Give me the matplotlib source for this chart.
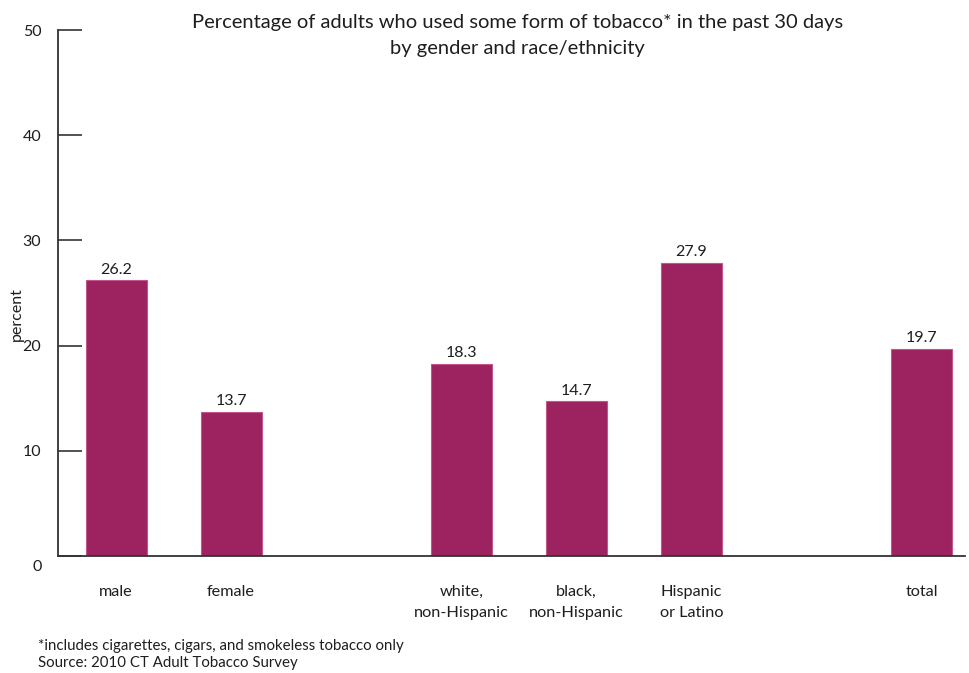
import matplotlib
matplotlib.use('Agg')
from matplotlib import pyplot as plt
from matplotlib import transforms

labels = ['male', 'female', 'white,\nnon-Hispanic', 'black,\nnon-Hispanic', 'Hispanic\nor Latino', 'total']
positions = [0, 1, 3, 4, 5, 7]
values = [26.2, 13.7, 18.3, 14.7, 27.9, 19.7]

plt.rcParams['font.family'] = ['Lato', 'DejaVu Sans']
text_color = '#1e1e1e'

fig = plt.figure(figsize=(9.69, 6.73), dpi=100)
ax = fig.add_axes([0.0599, 0.1738, 0.9361, 0.7816])

bars = ax.bar(positions, values, width=0.53, color='#9c2260', edgecolor='#c2568a', linewidth=0.8)
for x, v in zip(positions, values):
    ax.text(x, v + 0.35, '%.1f' % v, ha='center', va='bottom', fontsize=11.5, color=text_color)

ax.set_xlim(-0.504, 7.378)
ax.set_ylim(0, 50)
ax.set_yticks([0, 10, 20, 30, 40, 50])
ax.set_xticks(positions)
ax.set_xticklabels(labels, fontsize=11.7, color=text_color, va='top', linespacing=1.65)

ax.spines['top'].set_visible(False)
ax.spines['right'].set_visible(False)
for s in ['left', 'bottom']:
    ax.spines[s].set_linewidth(1.3)
    ax.spines[s].set_color('#333333')

ax.tick_params(axis='y', direction='in', length=17, width=1.2, color='#333333',
               labelsize=11.5, labelcolor=text_color, pad=12)
ax.tick_params(axis='x', length=0, pad=21)

# the 0 label sits a little below the baseline in the original
zero_label = ax.get_yticklabels()[0]
zero_label.set_transform(zero_label.get_transform() +
                         transforms.ScaledTranslation(0, -9 / 100, fig.dpi_scale_trans))

fig.text(17 / 969, 1 - 314 / 673, 'percent', rotation=90, ha='center', va='center',
         fontsize=11.5, color=text_color)

fig.text(0.534, 0.947, 'Percentage of adults who used some form of tobacco* in the past 30 days\nby gender and race/ethnicity',
         ha='center', va='center', fontsize=14.5, color=text_color, linespacing=1.6)

fig.text(0.039, 0.027, '*includes cigarettes, cigars, and smokeless tobacco only\nSource: 2010 CT Adult Tobacco Survey',
         ha='left', va='center', fontsize=10.8, color=text_color, linespacing=1.3)

fig.savefig('out.png', dpi=100)
